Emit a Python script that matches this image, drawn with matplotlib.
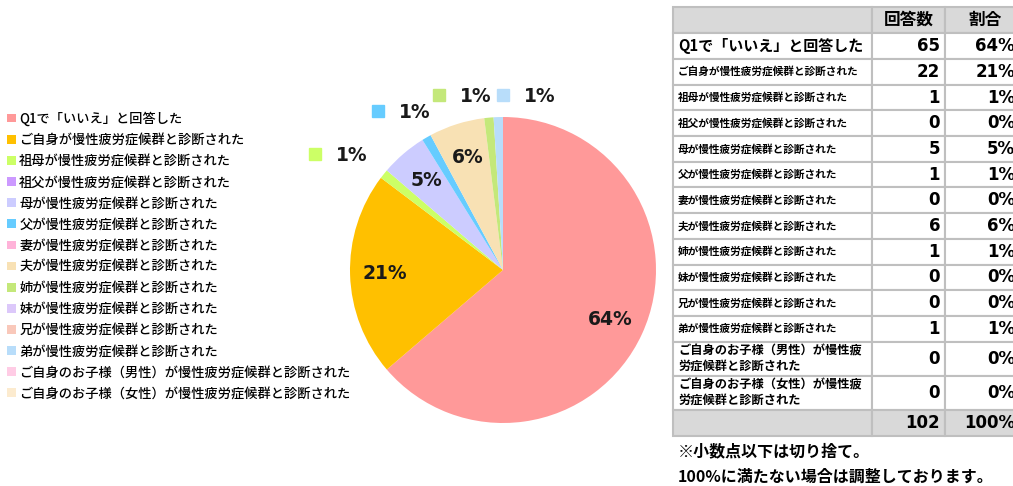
import numpy as np
import matplotlib
matplotlib.use("Agg")
import matplotlib.pyplot as plt
import matplotlib.patches as mpatches

plt.rcParams['font.family'] = ['Noto Sans CJK JP', 'DejaVu Sans']

# ============================================================
# ========================== DATA ============================
# ============================================================

categories = [
    "Q1で「いいえ」と回答した",
    "ご自身が慢性疲労症候群と診断された",
    "祖母が慢性疲労症候群と診断された",
    "祖父が慢性疲労症候群と診断された",
    "母が慢性疲労症候群と診断された",
    "父が慢性疲労症候群と診断された",
    "妻が慢性疲労症候群と診断された",
    "夫が慢性疲労症候群と診断された",
    "姉が慢性疲労症候群と診断された",
    "妹が慢性疲労症候群と診断された",
    "兄が慢性疲労症候群と診断された",
    "弟が慢性疲労症候群と診断された",
    "ご自身のお子様（男性）が慢性疲労症候群と診断された",
    "ご自身のお子様（女性）が慢性疲労症候群と診断された",
]
# table labels (the last two wrap in the table cell)
table_labels = categories[:12] + [
    "ご自身のお子様（男性）が慢性疲\n労症候群と診断された",
    "ご自身のお子様（女性）が慢性疲\n労症候群と診断された",
]
counts = [65, 22, 1, 0, 5, 1, 0, 6, 1, 0, 0, 1, 0, 0]
percents = [64, 21, 1, 0, 5, 1, 0, 6, 1, 0, 0, 1, 0, 0]
total_count = 102
total_pct = 100

colors = ["#FF9999", "#FFC000", "#CCFF66", "#CC99FF", "#CCCCFF", "#66CCFF",
          "#FFB3D9", "#F8E1B4", "#C4E87A", "#DCC8FA", "#F9C8BA", "#B8DDFA",
          "#FFCCE5", "#FCEBCF"]

footnotes = ["※小数点以下は切り捨て。", "100%に満たない場合は調整しております。"]

# ============================================================
# ========================= LAYOUT ===========================
# ============================================================

W, H = 1013, 486
PIE_CX, PIE_CY, PIE_R = 503, 270, 153
NUM_FONT = ["DejaVu Sans"]

# small slices get an outside label with a colour key (pie data units)
OUTER_POS = {2: (-0.99, 0.75), 5: (-0.575, 1.03), 8: (-0.176, 1.137), 11: (0.24, 1.137)}

fig = plt.figure(figsize=(W / 100, H / 100), dpi=100)

# ---------------- pie ----------------
ax = fig.add_axes([(PIE_CX - PIE_R) / W, (H - PIE_CY - PIE_R) / H,
                   2 * PIE_R / W, 2 * PIE_R / H])
wedges, _ = ax.pie(counts, colors=colors, startangle=90, counterclock=False,
                   radius=1, wedgeprops=dict(linewidth=0))
ax.set_xlim(-1, 1)
ax.set_ylim(-1, 1)

for i, w in enumerate(wedges):
    if percents[i] >= 5:
        mid = np.deg2rad((w.theta1 + w.theta2) / 2)
        ax.text(0.77 * np.cos(mid), 0.77 * np.sin(mid), f"{percents[i]}%",
                ha="center", va="center", fontsize=13.5, fontweight="bold",
                family=NUM_FONT, color="#1a1a1a")
    elif i in OUTER_POS:
        x, y = OUTER_POS[i]
        ax.text(x, y, f"{percents[i]}%", ha="center", va="center",
                fontsize=13.5, fontweight="bold", family=NUM_FONT,
                color="#1a1a1a")
        ax.plot([x - 0.24], [y + 0.01], marker="s", markersize=8,
                color=colors[i], linestyle="none", clip_on=False)

# ---------------- legend ----------------
handles = [mpatches.Patch(facecolor=c, edgecolor="none") for c in colors]
fig.legend(handles, categories, loc="upper left",
           bbox_to_anchor=(2 / W, 1 - 106 / H), frameon=False,
           prop=dict(size=9.5, weight="medium"),
           handlelength=0.65, handleheight=0.65,
           handletextpad=0.25, labelspacing=0.54, borderaxespad=0)

# ---------------- table ----------------
tab = fig.add_axes([0, 0, 1, 1])
tab.set_xlim(0, W)
tab.set_ylim(H, 0)
tab.axis("off")

col_x = [673, 872, 945, 1045]
row_h = [26, 26] + [25.7] * 11 + [34, 34, 26]
row_y = np.concatenate([[7], 7 + np.cumsum(row_h)])
grid_col = "#BFBFBF"
head_fill = "#D9D9D9"

n_rows = len(row_h)
for r in range(n_rows):
    y0, y1 = row_y[r], row_y[r + 1]
    fill = head_fill if r in (0, n_rows - 1) else "white"
    for c in range(3):
        tab.add_patch(mpatches.Rectangle((col_x[c], y0), col_x[c + 1] - col_x[c],
                                         y1 - y0, facecolor=fill,
                                         edgecolor=grid_col, linewidth=1.5))

def yc(r):
    return (row_y[r] + row_y[r + 1]) / 2

tab.text((col_x[1] + col_x[2]) / 2, yc(0), "回答数", ha="center", va="center",
         fontsize=12, fontweight="bold")
tab.text(985, yc(0), "割合", ha="center", va="center",
         fontsize=12, fontweight="bold")

for i, lab in enumerate(table_labels):
    r = i + 1
    if i == 0:
        fs = 10.8
    elif "\n" in lab:
        fs = 8.8
    else:
        fs = 7.7
    tab.text(678, yc(r), lab, ha="left", va="center", fontsize=fs,
             fontweight="bold", linespacing=1.25)
    tab.text(940, yc(r), f"{counts[i]}", ha="right", va="center",
             fontsize=12, fontweight="bold", family=NUM_FONT)
    tab.text(1015, yc(r), f"{percents[i]}%", ha="right", va="center",
             fontsize=12, fontweight="bold", family=NUM_FONT)

tab.text(940, yc(n_rows - 1), f"{total_count}", ha="right", va="center",
         fontsize=12, fontweight="bold", family=NUM_FONT)
tab.text(1015, yc(n_rows - 1), f"{total_pct}%", ha="right", va="center",
         fontsize=12, fontweight="bold", family=NUM_FONT)

tab.text(678, 451, footnotes[0], ha="left", va="center", fontsize=11.5,
         fontweight="bold")
tab.text(678, 477, footnotes[1], ha="left", va="center", fontsize=11.5,
         fontweight="bold")

fig.savefig("out.png", dpi=100)
